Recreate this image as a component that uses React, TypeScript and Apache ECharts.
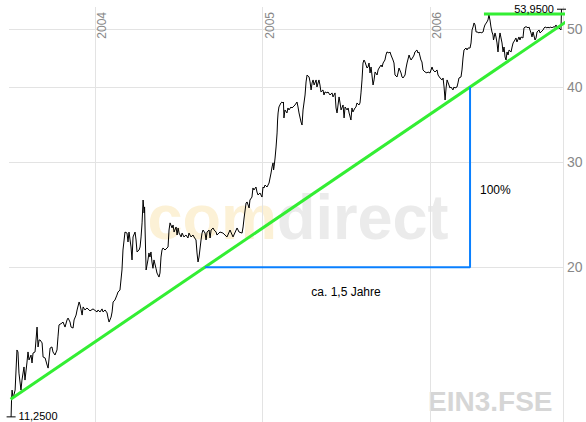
import React, { useEffect, useRef } from 'react';
import * as echarts from 'echarts';

// [decimal year, price in EUR]
const priceHistory: [number, number][] = [
  [2003.499, 11.25], [2003.502, 12.09], [2003.505, 12.47], [2003.511, 12.09], [2003.523, 12.47],
  [2003.534, 14.55], [2003.540, 14.44], [2003.546, 13.31], [2003.558, 12.47], [2003.564, 12.96],
  [2003.576, 13.63], [2003.582, 12.96], [2003.594, 13.89], [2003.600, 14.44], [2003.606, 14.00],
  [2003.618, 14.27], [2003.624, 13.84], [2003.630, 14.38], [2003.642, 14.44], [2003.654, 15.89],
  [2003.660, 14.72], [2003.666, 15.12], [2003.672, 15.12], [2003.684, 14.95], [2003.690, 14.16],
  [2003.702, 14.11], [2003.714, 13.73], [2003.720, 13.57], [2003.732, 14.66], [2003.743, 14.72],
  [2003.749, 14.44], [2003.761, 14.27], [2003.773, 14.55], [2003.779, 15.30], [2003.785, 16.02],
  [2003.803, 16.14], [2003.809, 16.20], [2003.821, 15.89], [2003.833, 16.33], [2003.839, 16.45],
  [2003.851, 16.20], [2003.857, 15.89], [2003.869, 15.83], [2003.875, 16.33], [2003.887, 16.64],
  [2003.893, 16.97], [2003.905, 17.50], [2003.911, 17.30], [2003.923, 16.64], [2003.929, 17.17],
  [2003.940, 16.97], [2003.952, 17.10], [2003.970, 16.91], [2003.988, 17.04], [2004.012, 16.84],
  [2004.018, 16.97], [2004.030, 16.84], [2004.042, 17.04], [2004.048, 16.84], [2004.060, 16.97],
  [2004.072, 16.78], [2004.078, 16.45], [2004.084, 16.20], [2004.096, 16.51], [2004.102, 16.84],
  [2004.108, 17.50], [2004.119, 17.63], [2004.131, 17.97], [2004.137, 18.18], [2004.149, 18.32],
  [2004.161, 19.79], [2004.167, 21.37], [2004.179, 22.90], [2004.191, 22.81], [2004.197, 22.04],
  [2004.203, 22.90], [2004.215, 21.62], [2004.221, 20.57], [2004.227, 22.47], [2004.239, 22.90],
  [2004.245, 22.21], [2004.251, 21.21], [2004.263, 21.37], [2004.269, 21.62], [2004.275, 22.47],
  [2004.281, 23.72], [2004.287, 25.90], [2004.293, 24.64], [2004.296, 25.22], [2004.299, 23.08],
  [2004.305, 19.79], [2004.316, 20.57], [2004.322, 21.13], [2004.328, 20.80], [2004.334, 21.21],
  [2004.340, 20.41], [2004.346, 19.92], [2004.352, 20.57], [2004.364, 19.92], [2004.370, 19.56],
  [2004.382, 19.26], [2004.388, 19.56], [2004.394, 20.80], [2004.400, 21.37], [2004.406, 21.54],
  [2004.418, 21.37], [2004.430, 21.54], [2004.436, 21.62], [2004.442, 23.08], [2004.448, 23.72],
  [2004.460, 23.26], [2004.466, 23.53], [2004.472, 22.90], [2004.484, 23.35], [2004.490, 22.64],
  [2004.496, 23.26], [2004.502, 22.81], [2004.514, 22.47], [2004.520, 22.81], [2004.531, 22.47],
  [2004.543, 22.64], [2004.555, 22.38], [2004.561, 22.81], [2004.573, 22.47], [2004.585, 22.64],
  [2004.591, 22.47], [2004.603, 22.21], [2004.609, 21.13], [2004.615, 20.41], [2004.621, 20.80],
  [2004.633, 22.21], [2004.639, 22.81], [2004.645, 23.08], [2004.657, 22.81], [2004.663, 22.21],
  [2004.669, 22.90], [2004.681, 23.08], [2004.687, 22.38], [2004.693, 23.08], [2004.705, 23.26],
  [2004.711, 23.08], [2004.723, 22.90], [2004.728, 22.64], [2004.740, 22.81], [2004.746, 22.90],
  [2004.764, 22.81], [2004.788, 22.47], [2004.806, 23.08], [2004.824, 22.47], [2004.848, 23.26],
  [2004.860, 22.90], [2004.878, 22.81], [2004.884, 23.35], [2004.890, 24.17], [2004.902, 25.61],
  [2004.908, 25.71], [2004.920, 25.12], [2004.925, 25.90], [2004.937, 26.20], [2004.943, 27.13],
  [2004.949, 26.92], [2004.961, 27.23], [2004.967, 26.71], [2004.973, 26.41], [2004.985, 26.61],
  [2004.997, 26.20], [2005.003, 27.23], [2005.009, 27.13], [2005.015, 27.44], [2005.027, 27.23],
  [2005.033, 27.44], [2005.039, 27.65], [2005.051, 28.74], [2005.057, 29.42], [2005.063, 29.88],
  [2005.066, 29.07], [2005.069, 29.42], [2005.075, 30.44], [2005.081, 31.76], [2005.087, 33.52],
  [2005.090, 35.23], [2005.093, 36.20], [2005.098, 37.04], [2005.110, 37.62], [2005.116, 37.76],
  [2005.122, 37.62], [2005.125, 37.76], [2005.128, 35.51], [2005.134, 36.62], [2005.146, 36.20],
  [2005.152, 36.90], [2005.158, 36.62], [2005.170, 37.04], [2005.176, 36.90], [2005.182, 37.04],
  [2005.194, 37.33], [2005.206, 37.76], [2005.212, 37.04], [2005.218, 36.20], [2005.230, 34.96],
  [2005.236, 34.56], [2005.242, 36.62], [2005.254, 38.79], [2005.260, 40.78], [2005.266, 41.89],
  [2005.278, 41.57], [2005.284, 40.78], [2005.290, 39.55], [2005.296, 40.63], [2005.302, 41.10],
  [2005.308, 40.31], [2005.320, 41.10], [2005.325, 40.00], [2005.337, 41.10], [2005.343, 40.31],
  [2005.349, 39.25], [2005.361, 39.55], [2005.367, 38.79], [2005.373, 39.25], [2005.385, 39.10],
  [2005.391, 39.25], [2005.403, 38.79], [2005.415, 39.10], [2005.421, 38.50], [2005.433, 39.10],
  [2005.439, 36.90], [2005.445, 36.20], [2005.457, 38.50], [2005.463, 37.62], [2005.469, 36.62],
  [2005.481, 37.33], [2005.487, 35.51], [2005.493, 37.04], [2005.505, 36.62], [2005.511, 36.90],
  [2005.517, 36.20], [2005.528, 35.23], [2005.534, 36.90], [2005.540, 36.34], [2005.552, 36.90],
  [2005.558, 37.04], [2005.564, 37.62], [2005.576, 37.33], [2005.582, 37.62], [2005.588, 39.10],
  [2005.594, 41.10], [2005.600, 43.87], [2005.606, 44.38], [2005.612, 44.04], [2005.624, 43.03],
  [2005.630, 43.20], [2005.636, 43.87], [2005.642, 42.22], [2005.648, 43.20], [2005.660, 40.31],
  [2005.666, 41.10], [2005.672, 42.38], [2005.684, 41.89], [2005.690, 42.71], [2005.696, 43.03],
  [2005.708, 43.53], [2005.714, 43.20], [2005.720, 43.87], [2005.731, 44.38], [2005.737, 45.24],
  [2005.743, 45.77], [2005.755, 45.59], [2005.761, 45.77], [2005.767, 45.24], [2005.779, 44.38],
  [2005.785, 43.87], [2005.791, 41.89], [2005.803, 41.57], [2005.809, 42.22], [2005.815, 43.03],
  [2005.827, 42.22], [2005.833, 41.57], [2005.839, 41.41], [2005.851, 41.89], [2005.857, 43.03],
  [2005.863, 43.87], [2005.875, 45.24], [2005.881, 44.72], [2005.887, 44.38], [2005.899, 44.90],
  [2005.905, 45.24], [2005.910, 45.77], [2005.922, 46.12], [2005.928, 45.59], [2005.934, 45.77],
  [2005.946, 44.38], [2005.952, 44.04], [2005.958, 42.71], [2005.970, 42.38], [2005.982, 42.22],
  [2005.988, 42.38], [2006.000, 42.22], [2006.012, 43.20], [2006.018, 42.71], [2006.030, 42.38],
  [2006.042, 42.71], [2006.048, 41.89], [2006.060, 41.41], [2006.072, 41.10], [2006.078, 41.41],
  [2006.084, 40.00], [2006.090, 38.05], [2006.096, 39.85], [2006.102, 41.10], [2006.113, 40.31],
  [2006.119, 39.85], [2006.125, 40.00], [2006.137, 39.55], [2006.143, 40.00], [2006.149, 39.85],
  [2006.161, 40.00], [2006.167, 40.63], [2006.173, 41.41], [2006.185, 41.57], [2006.191, 42.71],
  [2006.197, 44.72], [2006.203, 46.12], [2006.215, 46.47], [2006.221, 46.12], [2006.227, 46.47],
  [2006.239, 46.47], [2006.245, 47.38], [2006.251, 49.81], [2006.257, 50.39], [2006.263, 51.17],
  [2006.269, 50.78], [2006.275, 49.43], [2006.281, 49.43], [2006.293, 49.24], [2006.299, 49.43],
  [2006.305, 49.24], [2006.317, 49.43], [2006.322, 50.19], [2006.328, 50.78], [2006.340, 51.37],
  [2006.346, 51.76], [2006.352, 52.77], [2006.358, 51.76], [2006.364, 50.39], [2006.370, 49.43],
  [2006.376, 48.86], [2006.379, 47.93], [2006.382, 48.30], [2006.388, 49.24], [2006.394, 48.49],
  [2006.400, 47.38], [2006.406, 45.77], [2006.412, 47.93], [2006.418, 49.24], [2006.424, 48.30],
  [2006.430, 47.38], [2006.436, 45.77], [2006.442, 46.65], [2006.448, 44.90], [2006.454, 44.38],
  [2006.460, 45.77], [2006.466, 45.24], [2006.472, 46.12], [2006.484, 45.77], [2006.490, 46.65],
  [2006.496, 47.38], [2006.507, 47.93], [2006.513, 48.30], [2006.519, 47.56], [2006.531, 48.49],
  [2006.537, 47.93], [2006.543, 48.49], [2006.555, 48.30], [2006.561, 50.19], [2006.567, 50.39],
  [2006.579, 50.39], [2006.585, 50.19], [2006.591, 50.39], [2006.603, 49.24], [2006.609, 48.49],
  [2006.615, 49.43], [2006.627, 47.93], [2006.633, 48.30], [2006.639, 49.43], [2006.651, 49.81],
  [2006.657, 49.24], [2006.663, 49.43], [2006.675, 49.81], [2006.681, 50.19], [2006.687, 50.39],
  [2006.699, 50.19], [2006.705, 50.39], [2006.710, 50.19], [2006.722, 50.39], [2006.728, 50.19],
  [2006.734, 50.39], [2006.746, 50.39], [2006.752, 50.78], [2006.758, 50.39], [2006.770, 50.19],
  [2006.782, 49.81], [2006.785, 53.95],
];

const priceTicks = [20, 30, 40, 50];
const yearTicks = [2004, 2005, 2006];
const xRange = [2003.4865, 2006.794];
const yRange = [11.03, 54.41];

// Annotations drawn in the chart (trend line, resistance, doubling triangle)
const trendLine: [number, number][] = [[2003.496, 12.04], [2006.925, 54.0]];
const resistanceLine: [number, number][] = [[2006.322, 52.97], [2006.925, 52.97]];
const doublingTriangle: [number, number][] = [[2004.657, 20], [2006.239, 20], [2006.239, 40]];

const FONT = '"Liberation Sans", Arial, Helvetica, sans-serif';
const GREEN = '#33ee33';
const BLUE = '#0a80ff';
const GRID = '#e3e3e3';
const fmt = (v: number) => v.toFixed(4).replace('.', ',');

export default function App() {
  const ref = useRef<HTMLDivElement>(null);
  useEffect(() => {
    const chart = echarts.init(ref.current!, null, { renderer: 'svg' });
    chart.setOption({
      animation: false,
      backgroundColor: '#ffffff',
      textStyle: { fontFamily: FONT },
      grid: { left: 9, right: 23, top: 7, bottom: 0, containLabel: false },
      xAxis: { type: 'value', min: xRange[0], max: xRange[1], show: false },
      yAxis: {
        type: 'log', logBase: 10, min: yRange[0], max: yRange[1], position: 'right',
        axisLine: { show: true, onZero: false, lineStyle: { color: GRID, width: 1 } },
        axisTick: { show: false }, axisLabel: { show: false }, splitLine: { show: false },
      },
      graphic: [
        { type: 'text', z: 0, silent: true, style: { x: 277, y: 217, text: 'com', fill: '#fcf1d6', font: `bold 63px ${FONT}`, textAlign: 'right', align: 'right', textVerticalAlign: 'middle', verticalAlign: 'middle' } },
        { type: 'text', z: 0, silent: true, style: { x: 277, y: 217, text: 'direct', fill: '#ebebeb', font: `bold 63px ${FONT}`, textAlign: 'left', align: 'left', textVerticalAlign: 'middle', verticalAlign: 'middle' } },
        { type: 'text', z: 0, silent: true, style: { x: 428, y: 401, text: 'EIN3.FSE', fill: '#d6d6d6', font: `bold 28px ${FONT}`, textAlign: 'left', align: 'left', textVerticalAlign: 'middle', verticalAlign: 'middle' } },
        { type: 'text', z: 10, silent: true, style: { x: 480, y: 190, text: '100%', fill: '#000', font: `12px ${FONT}`, textAlign: 'left', align: 'left', textVerticalAlign: 'middle', verticalAlign: 'middle' } },
        { type: 'text', z: 10, silent: true, style: { x: 346, y: 292, text: 'ca. 1,5 Jahre', fill: '#000', font: `12px ${FONT}`, textAlign: 'center', align: 'center', textVerticalAlign: 'middle', verticalAlign: 'middle' } },
      ],
      series: [
        {
          type: 'line', data: priceHistory, symbol: 'none', showSymbol: false, z: 3,
          lineStyle: { color: '#000', width: 1 }, silent: true,
          markLine: {
            z: 1, silent: true, symbol: 'none',
            lineStyle: { color: GRID, width: 1, type: 'solid' },
            label: { formatter: (p: any) => String(p.value), color: '#888', fontFamily: FONT },
            emphasis: { disabled: true },
            data: [
              ...priceTicks.map((v) => ({ yAxis: v, label: { position: 'end', distance: 4, fontSize: 14 } })),
              ...yearTicks.map((v) => ({ xAxis: v, label: { position: 'insideEndBottom', distance: [5, 1], fontSize: 12 } })),
            ],
          },
          markPoint: {
            symbol: 'rect', symbolSize: [9, 1], silent: true,
            itemStyle: { color: '#000' },
            label: { show: true, color: '#000', fontSize: 11, fontFamily: FONT, formatter: (p: any) => fmt(p.value) },
            data: [
              { type: 'max', valueDim: 'y', label: { position: 'left', distance: 3 } },
              { type: 'min', valueDim: 'y', label: { position: 'right', distance: 3, offset: [0, -1] } },
            ],
          },
        },
        { type: 'line', data: trendLine, symbol: 'none', clip: false, z: 4, silent: true, lineStyle: { color: GREEN, width: 3 } },
        { type: 'line', data: resistanceLine, symbol: 'none', clip: false, z: 4, silent: true, lineStyle: { color: GREEN, width: 3 } },
        { type: 'line', data: doublingTriangle, symbol: 'none', clip: false, z: 4, silent: true, lineStyle: { color: BLUE, width: 2 } },
      ],
    });
    return () => chart.dispose();
  }, []);
  return <div ref={ref} style={{ position: 'fixed', left: 0, top: 0, width: 586, height: 422 }} />;
}
